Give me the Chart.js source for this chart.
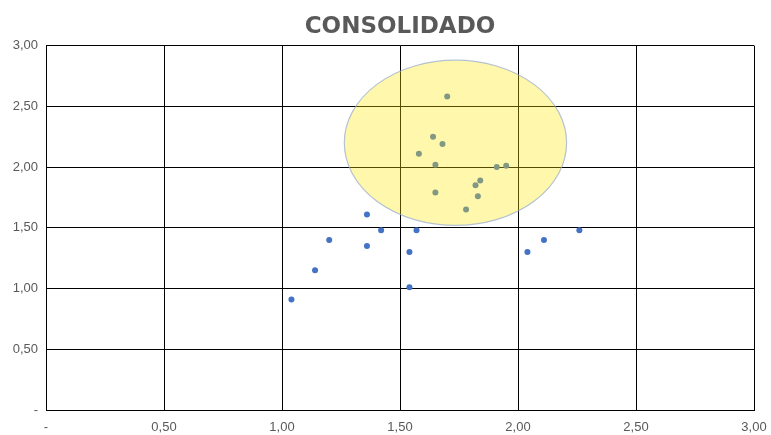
<!DOCTYPE html>
<html>
<head>
<meta charset="utf-8">
<script src="https://cdn.jsdelivr.net/npm/chart.js@4.4.1/dist/chart.umd.min.js"></script>
<style>
  html, body { margin: 0; padding: 0; background: #fff; }
  #wrap { width: 771px; height: 435px; }
</style>
</head>
<body>
<div id="wrap"><canvas id="chart" width="771" height="435"></canvas></div>
<script>
// point values
const xValues = [1.04, 1.14, 1.20, 1.36, 1.36, 1.42, 1.54, 1.54, 1.57, 2.04, 2.11, 2.26,
                 1.70, 1.64, 1.68, 1.58, 1.65, 1.91, 1.95, 1.84, 1.82, 1.83, 1.65, 1.78];
const yValues = [0.91, 1.15, 1.40, 1.61, 1.35, 1.48, 1.01, 1.30, 1.48, 1.30, 1.40, 1.48,
                 2.58, 2.25, 2.19, 2.11, 2.02, 2.00, 2.01, 1.89, 1.85, 1.76, 1.79, 1.65];
const axisTicks = [0, 0.5, 1, 1.5, 2, 2.5, 3];

// highlight ellipse, in data units
const ellipseCenter = [1.735, 2.20];
const ellipseRadius = [0.471, 0.68];

const points = xValues.map((x, i) => ({ x: x, y: yValues[i] }));

function fmt(v) {
  if (v === 0) return '-';
  return v.toFixed(2).replace('.', ',');
}

const ellipsePlugin = {
  id: 'ellipse',
  afterDatasetsDraw(chart) {
    const { ctx, scales: { x, y }, chartArea } = chart;
    const cx = x.getPixelForValue(ellipseCenter[0]);
    const cy = y.getPixelForValue(ellipseCenter[1]);
    const rx = x.getPixelForValue(ellipseCenter[0] + ellipseRadius[0]) - cx;
    const ry = cy - y.getPixelForValue(ellipseCenter[1] + ellipseRadius[1]);
    ctx.save();
    ctx.beginPath();
    ctx.rect(chartArea.left, chartArea.top, chartArea.right - chartArea.left, chartArea.bottom - chartArea.top);
    ctx.clip();
    ctx.beginPath();
    ctx.ellipse(cx, cy, rx, ry, 0, 0, Math.PI * 2);
    ctx.fillStyle = 'rgba(255, 232, 0, 0.33)';
    ctx.fill();
    ctx.lineWidth = 1.2;
    ctx.strokeStyle = 'rgba(150, 170, 205, 0.7)';
    ctx.stroke();
    ctx.restore();
  }
};

new Chart(document.getElementById('chart'), {
  type: 'scatter',
  data: {
    datasets: [{
      data: points,
      backgroundColor: '#4472C4',
      borderColor: '#4472C4',
      borderWidth: 0,
      pointRadius: 3,
      pointHoverRadius: 3
    }]
  },
  options: {
    responsive: false,
    animation: false,
    layout: { padding: { left: 0, right: 17, top: 0, bottom: 0 } },
    plugins: {
      legend: { display: false },
      tooltip: { enabled: false },
      title: {
        display: true,
        text: 'CONSOLIDADO',
        fullSize: false,
        color: '#595959',
        font: { family: 'DejaVu Sans', size: 23, weight: 'bold', lineHeight: 1.2 },
        padding: { top: 13, bottom: 5 }
      }
    },
    scales: {
      x: {
        type: 'linear',
        min: 0,
        max: 3,
        afterBuildTicks(scale) { scale.ticks = axisTicks.map(v => ({ value: v })); },
        afterFit(scale) {
          scale.height = 25;
          scale.paddingLeft = 0;
          scale.paddingRight = 0;
        },
        grid: { color: '#000', lineWidth: 1, drawTicks: false },
        border: { color: '#000', width: 1 },
        ticks: {
          padding: 10,
          color: '#595959',
          font: { family: 'Liberation Sans', size: 13 },
          maxRotation: 0,
          callback: v => fmt(v)
        }
      },
      y: {
        type: 'linear',
        min: 0,
        max: 3,
        afterBuildTicks(scale) { scale.ticks = axisTicks.map(v => ({ value: v })); },
        afterFit(scale) {
          scale.width = 46;
          scale.paddingTop = 0;
          scale.paddingBottom = 0;
        },
        grid: { color: '#000', lineWidth: 1, drawTicks: false },
        border: { color: '#000', width: 1 },
        ticks: {
          padding: 8,
          color: '#595959',
          font: { family: 'Liberation Sans', size: 13 },
          callback: v => fmt(v)
        }
      }
    }
  },
  plugins: [ellipsePlugin]
});
</script>
</body>
</html>
